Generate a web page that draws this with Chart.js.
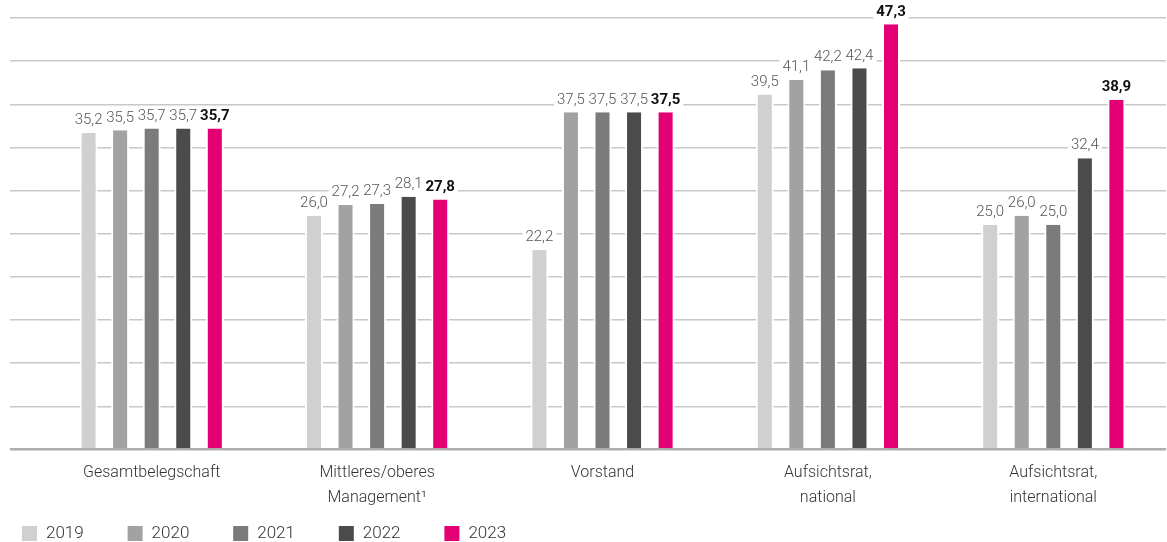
<!DOCTYPE html>
<html lang="de">
<head>
<meta charset="utf-8">
<title>Frauenanteil</title>
<script src="https://cdn.jsdelivr.net/npm/chart.js@4.4.1/dist/chart.umd.min.js"></script>
<style>
    html, body { margin: 0; padding: 0; background: #fff; }
    #wrap { position: relative; width: 1167px; height: 542px; }
</style>
</head>
<body>
<div id="wrap"><canvas id="chart"></canvas></div>
<script>
const categories = [
    ['Gesamtbelegschaft'],
    ['Mittleres/oberes', 'Management¹'],
    ['Vorstand'],
    ['Aufsichtsrat,', 'national'],
    ['Aufsichtsrat,', 'international']
];
const years = ['2019', '2020', '2021', '2022', '2023'];
const values2019 = [35.2, 26.0, 22.2, 39.5, 25.0];
const values2020 = [35.5, 27.2, 37.5, 41.1, 26.0];
const values2021 = [35.7, 27.3, 37.5, 42.2, 25.0];
const values2022 = [35.7, 28.1, 37.5, 42.4, 32.4];
const values2023 = [35.7, 27.8, 37.5, 47.3, 38.9];
const colors = ['#d0d0d0', '#a2a2a2', '#7b7b7b', '#4b4b4b', '#e20074'];

const FONT = 'Roboto, "Noto Sans", sans-serif';
const fmt = v => v.toFixed(1).replace('.', ',');

// value labels on white boxes, current year in bold
const valueLabels = {
    id: 'valueLabels',
    afterDatasetsDraw(chart) {
        const ctx = chart.ctx;
        const items = [];
        chart.data.datasets.forEach((ds, di) => {
            const meta = chart.getDatasetMeta(di);
            const bold = di === chart.data.datasets.length - 1;
            meta.data.forEach((bar, i) => {
                items.push({ x: bar.x, y: bar.y - 12.5, text: fmt(ds.data[i]), bold });
            });
        });
        ctx.save();
        ctx.textAlign = 'center';
        ctx.textBaseline = 'middle';
        items.forEach(it => {
            ctx.font = (it.bold ? 'bold ' : '300 ') + '15px ' + FONT;
            const w = ctx.measureText(it.text).width;
            ctx.fillStyle = '#fff';
            ctx.fillRect(it.x - w / 2 - 3, it.y - 8, w + 6, 16);
        });
        items.forEach(it => {
            ctx.font = (it.bold ? 'bold ' : '300 ') + '15px ' + FONT;
            ctx.fillStyle = it.bold ? '#111' : '#555';
            ctx.fillText(it.text, it.x, it.y);
        });
        ctx.restore();
    }
};

// legend row at the bottom left
const legendRow = {
    id: 'legendRow',
    afterDraw(chart) {
        const ctx = chart.ctx;
        ctx.save();
        ctx.font = '300 17px ' + FONT;
        ctx.textBaseline = 'middle';
        chart.data.datasets.forEach((ds, i) => {
            const x = 22 + i * 105.6;
            ctx.fillStyle = ds.backgroundColor;
            ctx.fillRect(x, 526, 15, 15);
            ctx.fillStyle = '#333';
            ctx.fillText(ds.label, x + 24, 534);
        });
        ctx.restore();
    }
};

const series = [values2019, values2020, values2021, values2022, values2023];

new Chart(document.getElementById('chart'), {
    type: 'bar',
    data: {
        labels: categories,
        datasets: series.map((data, i) => ({
            label: years[i],
            data: data,
            backgroundColor: colors[i],
            borderColor: '#fff',
            borderWidth: { left: 2, right: 2, top: 0, bottom: 0 },
            borderSkipped: false,
            categoryPercentage: 0.7,
            barPercentage: 0.571
        }))
    },
    options: {
        responsive: true,
        maintainAspectRatio: false,
        animation: false,
        events: [],
        layout: { padding: { left: 10, top: 18, right: 1, bottom: 21 } },
        plugins: {
            legend: { display: false },
            tooltip: { enabled: false }
        },
        scales: {
            x: {
                grid: { display: false, drawTicks: false, tickLength: 0 },
                border: { display: false },
                ticks: {
                    padding: 11,
                    color: '#333',
                    font: { family: FONT, size: 16, weight: '300', lineHeight: 1.55 },
                    maxRotation: 0,
                    autoSkip: false
                }
            },
            y: {
                min: 0,
                max: 48,
                border: { display: false },
                ticks: { display: false, stepSize: 4.8 },
                grid: {
                    drawTicks: true,
                    tickLength: 29,
                    color: c => c.tick && c.tick.value === 0 ? '#adadad' : '#c8c8c8',
                    lineWidth: c => c.tick && c.tick.value === 0 ? 2.5 : 1.5
                }
            }
        }
    },
    plugins: [valueLabels, legendRow]
});
</script>
</body>
</html>
